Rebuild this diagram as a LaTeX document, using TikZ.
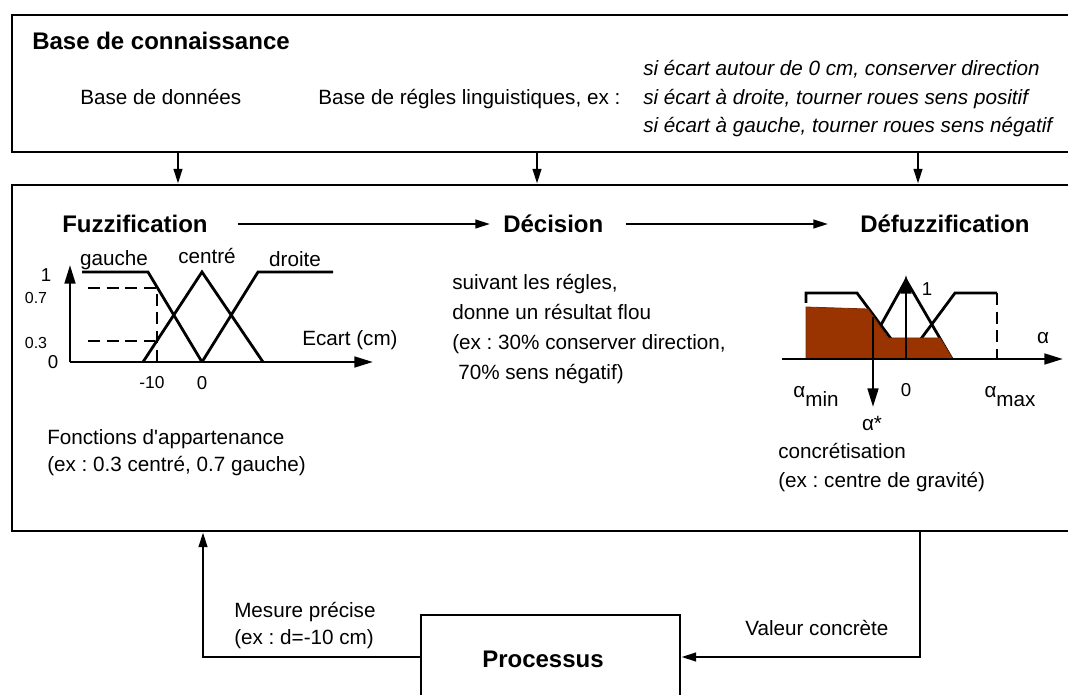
\documentclass[tikz,border=0pt]{standalone}
\usepackage{fontspec}
\setmainfont{Liberation Sans}
\usetikzlibrary{arrows.meta}
\definecolor{fillbrown}{RGB}{153,51,0}
\frenchspacing
\begin{document}
\begin{tikzpicture}[x=0.75pt,y=-0.75pt,
  box/.style={draw, line width=2.2pt, inner sep=0pt},
  conn/.style={line width=1.5pt, -{Triangle[length=11pt,width=6.5pt]}},
  axisarrow/.style={line width=2pt, -{Triangle[length=14pt,width=8pt]}},
  curve/.style={line width=2.1pt},
  dashline/.style={line width=2pt, dash pattern=on 9pt off 5pt},
  txt/.style={inner sep=0pt, font=\fontsize{15.5}{18}\selectfont, text height=11.1pt, text depth=0pt},
  itxt/.style={txt, font=\fontsize{15.5}{18}\selectfont\itshape},
  head/.style={inner sep=0pt, font=\fontsize{18}{21}\selectfont\bfseries, text height=12.9pt, text depth=0pt},
  lbl/.style={inner sep=0pt, font=\fontsize{14}{16}\selectfont},
  slbl/.style={inner sep=0pt, font=\fontsize{12}{14}\selectfont},
  mlbl/.style={inner sep=0pt, font=\fontsize{13}{15}\selectfont}
]
\clip (0,0) rectangle (1068,695);
\fill[white] (0,0) rectangle (1068,695);

% boxes
\node[box, minimum width=808.5pt, minimum height=102.75pt] (kb) at (551,83.5) {};
\node[box, minimum width=808.5pt, minimum height=259.5pt] (main) at (551,358) {};
\node[box, minimum width=194.25pt, minimum height=63pt] (proc) at (550.5,657) {};
\node[head] (proctxt) at (543,659) {Processus};

% knowledge base texts
\node[head, anchor=west] (kbt) at (32,41) {Base de connaissance};
\node[txt, anchor=west] (bdd) at (80,97) {Base de données};
\node[txt, anchor=west] (brl) at (318,97) {Base de régles linguistiques, ex :};
\node[itxt, anchor=west] (r1) at (643,68) {si écart autour de 0 cm, conserver direction};
\node[itxt, anchor=west] (r2) at (643,97) {si écart à droite, tourner roues sens positif};
\node[itxt, anchor=west] (r3) at (643,125) {si écart à gauche, tourner roues sens négatif};

% arrows kb -> main
\coordinate (c1) at (178,0);
\coordinate (c2) at (537,0);
\coordinate (c3) at (918,0);
\draw[conn] (kb.south -| c1) -- (main.north -| c1);
\draw[conn] (kb.south -| c2) -- (main.north -| c2);
\draw[conn] (kb.south -| c3) -- (main.north -| c3);

% headings
\node[head, anchor=west] (fuzz) at (62,224) {Fuzzification};
\node[head, anchor=west] (dec) at (503,224) {Décision};
\node[head, anchor=west] (defuzz) at (860,224) {Défuzzification};
\draw[conn, shorten <=22.5pt, shorten >=9.75pt] (fuzz.east) -- (dec.west);
\draw[conn, shorten <=17pt, shorten >=24pt] (dec.east) -- (defuzz.west);

% fuzzification graph
\draw[dashline] (88,288) -- (157,288) -- (157,362);
\draw[dashline] (88,341) -- (155,341);
\draw[curve] (82,272) -- (148,272) -- (202,362);
\draw[curve] (143,362) -- (202,272) -- (263,362);
\draw[curve] (202,362) -- (258,272) -- (333,272);
\coordinate (o1) at (70,362);
\coordinate (ytip) at (70,265);
\coordinate (xtip) at (373,362);
\draw[axisarrow] (o1) -- (ytip);
\draw[axisarrow] (o1) -- (xtip);
\node[txt] (lg) at (114,258) {gauche};
\node[txt] (lc) at (207,256) {centré};
\node[txt] (ld) at (295,259) {droite};
\node[lbl] (l1) at (46,275) {1};
\node[slbl] (l07) at (36,298) {0.7};
\node[slbl] (l03) at (36,343) {0.3};
\node[lbl] (l0) at (53,362) {0};
\node[mlbl] (lm10) at (152,383) {-10};
\node[lbl] (lx0) at (202,383) {0};
\node[txt] (lecart) at (350,338) {Ecart (cm)};
\node[txt, anchor=west] (fa1) at (47,437) {Fonctions d\textquotesingle appartenance};
\node[txt, anchor=west] (fa2) at (47,464) {(ex : 0.3 centré, 0.7 gauche)};

% decision text
\node[txt, anchor=west] (d1) at (452,282) {suivant les régles,};
\node[txt, anchor=west] (d2) at (452,312) {donne un résultat flou};
\node[txt, anchor=west] (d3) at (452,342) {(ex : 30\% conserver direction,};
\node[txt, anchor=west] (d4) at (458,372) {70\% sens négatif)};

% defuzzification graph
\draw[curve] (806,303) -- (806,293) -- (857,293) -- (906,359);
\draw[curve] (862,359) -- (906,280) -- (952,359);
\draw[curve] (906,359) -- (955,293) -- (997,293);
\draw[dashline] (997,293) -- (997,359);
\fill[fillbrown, draw=fillbrown!80!black, line width=0.6pt] (806,307) -- (868,309) -- (888,338) -- (940,338) -- (953,359) -- (806,359) -- cycle;
\coordinate (o2) at (782,359);
\coordinate (x2tip) at (1063,359);
\coordinate (z2) at (906,359);
\coordinate (y2tip) at (906,275);
\coordinate (as1) at (873,317);
\coordinate (as2) at (873,407);
\draw[axisarrow] (o2) -- (x2tip);
\draw[axisarrow] (z2) -- (y2tip);
\draw[axisarrow] (as1) -- (as2);
\node[lbl] (dl1) at (927,289) {1};
\node[txt] (dla) at (1043,336) {α};
\node[txt] (dlmin) at (816,390) {α\raisebox{-7pt}{min}};
\node[lbl] (dl0) at (906,390) {0};
\node[txt] (dlmax) at (1010,390) {α\raisebox{-7pt}{max}};
\node[txt] (dlstar) at (872,423) {α*};
\node[txt, anchor=west] (cc1) at (778,451) {concrétisation};
\node[txt, anchor=west] (cc2) at (778,480) {(ex : centre de gravité)};

% bottom loop
\coordinate (lx) at (203,0);
\coordinate (rx) at (920,0);
\draw[conn] (proc.west) -| (main.south -| lx);
\draw[conn] (main.south -| rx) |- (proc.east);
\node[txt, anchor=west] (m1) at (234,610) {Mesure précise};
\node[txt, anchor=west] (m2) at (234,637) {(ex : d=-10 cm)};
\node[txt, anchor=west] (vc) at (745,628) {Valeur concrète};
\end{tikzpicture}
\end{document}
